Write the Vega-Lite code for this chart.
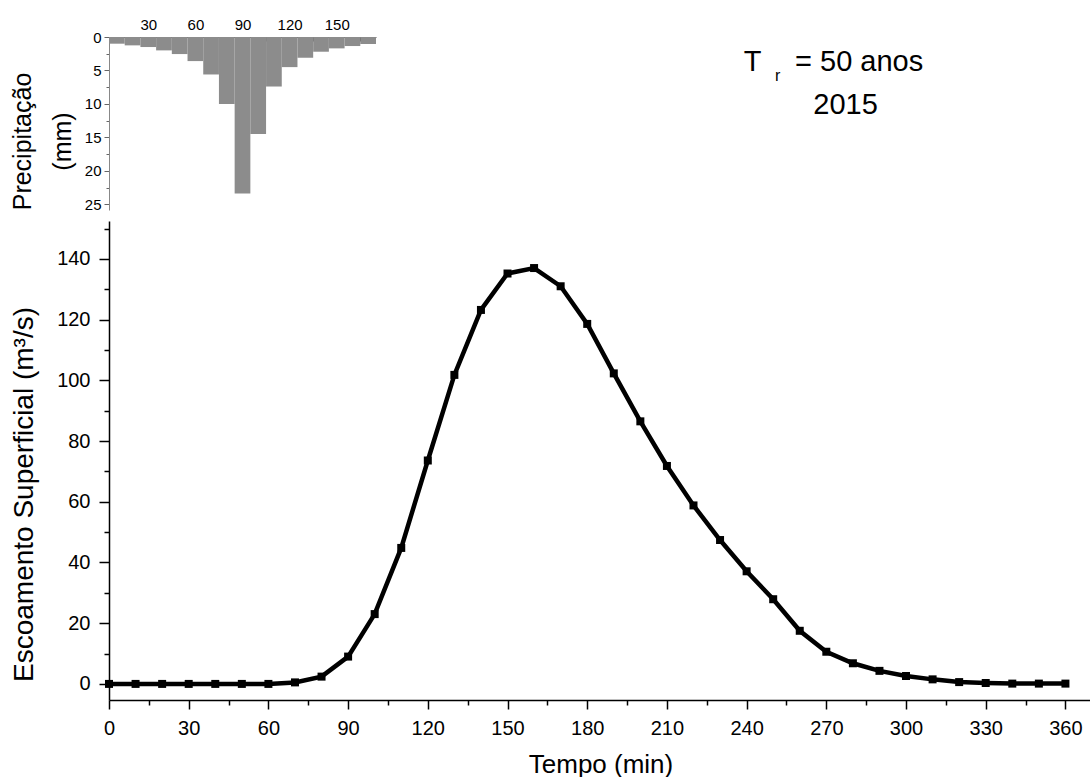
{
  "$schema": "https://vega.github.io/schema/vega-lite/v6.json",
  "background": "white",
  "padding": {"left": 10, "top": 17, "right": 0, "bottom": 0},
  "spacing": 5,
  "config": {
    "view": {"stroke": null},
    "font": "Liberation Sans",
    "axis": {"grid": false, "labelColor": "black", "titleColor": "black", "titleFontWeight": "normal", "labelOverlap": false, "labelFlush": false, "labelFont": "Liberation Sans", "titleFont": "Liberation Sans"}
  },
  "datasets": {
    "chuva": [
      {"inicio": 5, "fim": 15, "precip": 1.0},
      {"inicio": 15, "fim": 25, "precip": 1.25},
      {"inicio": 25, "fim": 35, "precip": 1.5},
      {"inicio": 35, "fim": 45, "precip": 2.0},
      {"inicio": 45, "fim": 55, "precip": 2.55},
      {"inicio": 55, "fim": 65, "precip": 3.6},
      {"inicio": 65, "fim": 75, "precip": 5.6},
      {"inicio": 75, "fim": 85, "precip": 10.0},
      {"inicio": 85, "fim": 95, "precip": 23.4},
      {"inicio": 95, "fim": 105, "precip": 14.5},
      {"inicio": 105, "fim": 115, "precip": 7.4},
      {"inicio": 115, "fim": 125, "precip": 4.5},
      {"inicio": 125, "fim": 135, "precip": 3.1},
      {"inicio": 135, "fim": 145, "precip": 2.2},
      {"inicio": 145, "fim": 155, "precip": 1.7},
      {"inicio": 155, "fim": 165, "precip": 1.35},
      {"inicio": 165, "fim": 175, "precip": 1.05}
    ],
    "vazao": [
      {"tempo": 0, "q": 0}, {"tempo": 10, "q": 0}, {"tempo": 20, "q": 0}, {"tempo": 30, "q": 0},
      {"tempo": 40, "q": 0}, {"tempo": 50, "q": 0}, {"tempo": 60, "q": 0}, {"tempo": 70, "q": 0.5},
      {"tempo": 80, "q": 2.4}, {"tempo": 90, "q": 9.0}, {"tempo": 100, "q": 23.0}, {"tempo": 110, "q": 44.8},
      {"tempo": 120, "q": 73.6}, {"tempo": 130, "q": 101.8}, {"tempo": 140, "q": 123.2}, {"tempo": 150, "q": 135.2},
      {"tempo": 160, "q": 137.0}, {"tempo": 170, "q": 131.0}, {"tempo": 180, "q": 118.6}, {"tempo": 190, "q": 102.3},
      {"tempo": 200, "q": 86.5}, {"tempo": 210, "q": 71.8}, {"tempo": 220, "q": 58.8}, {"tempo": 230, "q": 47.4},
      {"tempo": 240, "q": 37.1}, {"tempo": 250, "q": 27.9}, {"tempo": 260, "q": 17.5}, {"tempo": 270, "q": 10.6},
      {"tempo": 280, "q": 6.8}, {"tempo": 290, "q": 4.3}, {"tempo": 300, "q": 2.6}, {"tempo": 310, "q": 1.5},
      {"tempo": 320, "q": 0.6}, {"tempo": 330, "q": 0.3}, {"tempo": 340, "q": 0.1}, {"tempo": 350, "q": 0.1},
      {"tempo": 360, "q": 0.1}
    ]
  },
  "vconcat": [
    {
      "width": 267,
      "height": 173,
      "resolve": {"scale": {"x": "independent", "y": "independent"}},
      "layer": [
        {
          "data": {"name": "chuva"},
          "mark": {"type": "bar", "color": "#8c8c8c"},
          "encoding": {
            "x": {"field": "inicio", "type": "quantitative",
              "scale": {"domain": [5, 175], "nice": false, "zero": false},
              "axis": {"orient": "top", "title": null, "values": [15, 30, 45, 60, 75, 90, 105, 120, 135, 150, 165],
                "labelExpr": "datum.value % 30 === 0 ? datum.label : ''", "labelOverlap": false,
                "tickSize": -4, "labelPadding": 9, "labelFontSize": 15, "domainColor": "#666", "tickColor": "#333", "domainWidth": 1}},
            "x2": {"field": "fim"},
            "y": {"field": "precip", "type": "quantitative",
              "scale": {"domain": [0, 25.85], "reverse": true, "nice": false},
              "axis": {"values": [0, 2.5, 5, 7.5, 10, 12.5, 15, 17.5, 20, 22.5, 25],
                "labelExpr": "datum.value % 5 === 0 ? datum.label : ''", "labelOverlap": false,
                "tickSize": {"condition": {"test": "datum.value % 5 === 0", "value": 5}, "value": 3},
                "labelFontSize": 15, "labelPadding": 3, "domainColor": "#888", "tickColor": "#666", "domainWidth": 1,
                "title": ["Precipitação", "(mm)"], "titleFontSize": 25, "titleLineHeight": 40, "titlePadding": 9, "titleY": 104}},
            "y2": {"datum": 0}
          }
        },
        {
          "data": {"values": [{}]},
          "mark": {"type": "text", "text": "T", "fontSize": 29, "align": "left", "baseline": "alphabetic", "color": "black"},
          "encoding": {
            "x": {"datum": 409.1, "type": "quantitative", "scale": {"domain": [5, 175], "nice": false, "zero": false}, "axis": null},
            "y": {"datum": 5.08, "type": "quantitative", "scale": {"domain": [0, 25.85], "reverse": true, "nice": false}, "axis": null}}
        },
        {
          "data": {"values": [{}]},
          "mark": {"type": "text", "text": "r", "fontSize": 16, "align": "left", "baseline": "alphabetic", "color": "black"},
          "encoding": {
            "x": {"datum": 429, "type": "quantitative", "scale": {"domain": [5, 175], "nice": false, "zero": false}, "axis": null},
            "y": {"datum": 6.62, "type": "quantitative", "scale": {"domain": [0, 25.85], "reverse": true, "nice": false}, "axis": null}}
        },
        {
          "data": {"values": [{}]},
          "mark": {"type": "text", "text": "= 50 anos", "fontSize": 29, "align": "left", "baseline": "alphabetic", "color": "black"},
          "encoding": {
            "x": {"datum": 441.8, "type": "quantitative", "scale": {"domain": [5, 175], "nice": false, "zero": false}, "axis": null},
            "y": {"datum": 5.08, "type": "quantitative", "scale": {"domain": [0, 25.85], "reverse": true, "nice": false}, "axis": null}}
        },
        {
          "data": {"values": [{}]},
          "mark": {"type": "text", "text": "2015", "fontSize": 29, "align": "center", "baseline": "alphabetic", "color": "black"},
          "encoding": {
            "x": {"datum": 474, "type": "quantitative", "scale": {"domain": [5, 175], "nice": false, "zero": false}, "axis": null},
            "y": {"datum": 11.55, "type": "quantitative", "scale": {"domain": [0, 25.85], "reverse": true, "nice": false}, "axis": null}}
        }
      ]
    },
    {
      "width": 983,
      "height": 479,
      "data": {"name": "vazao"},
      "mark": {"type": "line", "color": "black", "strokeWidth": 4.5, "point": {"shape": "square", "size": 64, "filled": true, "color": "black"}},
      "encoding": {
        "x": {"field": "tempo", "type": "quantitative",
          "scale": {"domain": [0, 370], "nice": false, "zero": false},
          "axis": {"values": [0, 15, 30, 45, 60, 75, 90, 105, 120, 135, 150, 165, 180, 195, 210, 225, 240, 255, 270, 285, 300, 315, 330, 345, 360],
            "labelExpr": "datum.value % 30 === 0 ? datum.label : ''", "labelOverlap": false,
            "tickSize": {"condition": {"test": "datum.value % 30 === 0", "value": 9}, "value": 5},
            "tickWidth": 1.5, "domainWidth": 1.5, "domainColor": "black", "tickColor": "black",
            "labelFontSize": 20, "labelPadding": 9, "title": "Tempo (min)", "titleFontSize": 26, "titlePadding": 13}},
        "y": {"field": "q", "type": "quantitative",
          "scale": {"domain": [-5.3, 152.5], "nice": false, "zero": false},
          "axis": {"values": [0, 10, 20, 30, 40, 50, 60, 70, 80, 90, 100, 110, 120, 130, 140, 150],
            "labelExpr": "datum.value % 20 === 0 ? datum.label : ''", "labelOverlap": false,
            "tickSize": {"condition": {"test": "datum.value % 20 === 0", "value": 10}, "value": 5},
            "tickWidth": 1.5, "domainWidth": 1.5, "domainColor": "black", "tickColor": "black",
            "labelFontSize": 20, "labelPadding": 9, "title": "Escoamento Superficial (m³/s)", "titleFontSize": 28, "titlePadding": 18, "titleY": 273}}
      }
    }
  ]
}
